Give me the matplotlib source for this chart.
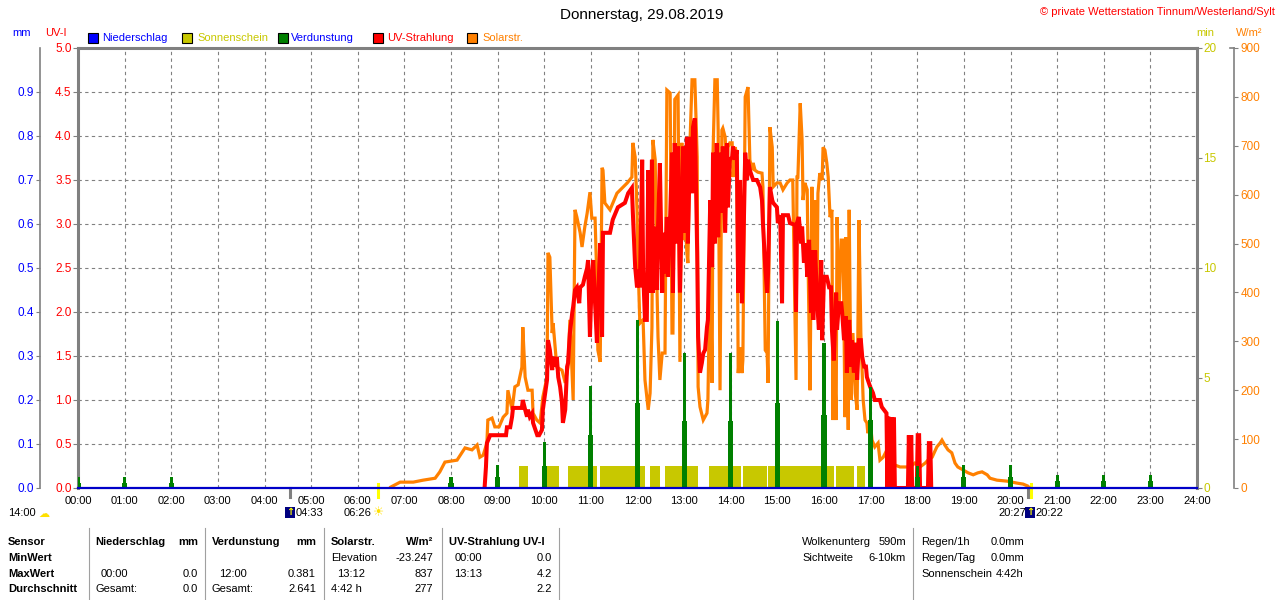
import matplotlib
matplotlib.use("Agg")
import matplotlib.pyplot as plt
from matplotlib.patches import Rectangle
from matplotlib.lines import Line2D

plt.rcParams['font.family'] = ['Liberation Sans', 'DejaVu Sans']
plt.rcParams['font.size'] = 8

# ---- data (time in hours) ----
solar_t = [6.71, 6.91, 7.19, 7.40, 7.66, 7.76, 7.87, 8.13, 8.30, 8.45, 8.56, 8.62, 8.69, 8.77, 8.79,
           8.88, 8.94, 9.03, 9.12, 9.20, 9.22, 9.31, 9.37, 9.44, 9.52, 9.54, 9.59, 9.65, 9.74, 9.76,
           9.84, 9.91, 9.97, 10.06, 10.08, 10.12, 10.17, 10.19, 10.27, 10.38, 10.45, 10.51, 10.55,
           10.62, 10.66, 10.70, 10.77, 10.81, 10.87, 10.92, 10.98, 11.02, 11.09, 11.13, 11.15, 11.20,
           11.24, 11.26, 11.30, 11.41, 11.56, 11.78, 11.88, 11.90, 11.95, 11.99, 12.01, 12.05, 12.12,
           12.16, 12.23, 12.27, 12.31, 12.33, 12.38, 12.42, 12.44, 12.48, 12.53, 12.59, 12.63, 12.70,
           12.74, 12.76, 12.80, 12.87, 12.91, 12.95, 12.98, 13.02, 13.06, 13.08, 13.13, 13.17, 13.23,
           13.28, 13.30, 13.34, 13.41, 13.49, 13.51, 13.56, 13.60, 13.62, 13.66, 13.71, 13.73, 13.77,
           13.81, 13.83, 13.88, 13.92, 13.94, 13.98, 14.03, 14.05, 14.09, 14.13, 14.16, 14.20, 14.24,
           14.26, 14.31, 14.37, 14.41, 14.46, 14.48, 14.52, 14.58, 14.67, 14.69, 14.74, 14.78, 14.80,
           14.84, 14.89, 14.91, 14.99, 15.06, 15.12, 15.21, 15.27, 15.33, 15.40, 15.42, 15.44, 15.49,
           15.53, 15.55, 15.59, 15.64, 15.66, 15.70, 15.74, 15.76, 15.81, 15.85, 15.87, 15.91, 15.96,
           15.98, 16.02, 16.06, 16.09, 16.13, 16.17, 16.19, 16.21, 16.26, 16.28, 16.32, 16.37, 16.41,
           16.45, 16.47, 16.52, 16.54, 16.58, 16.62, 16.67, 16.71, 16.75, 16.79, 16.84, 16.88, 16.92,
           16.94, 16.99, 17.03, 17.09, 17.16, 17.20, 17.27, 17.35, 17.42, 17.52, 17.63, 17.74, 17.85,
           17.95, 18.06, 18.17, 18.23, 18.32, 18.42, 18.49, 18.53, 18.59, 18.66, 18.74, 18.81, 18.87,
           18.98, 19.09, 19.20, 19.30, 19.39, 19.50, 19.56, 19.71, 19.93, 20.14, 20.27, 20.37, 20.41]
solar_v = [2, 12, 12, 16, 20, 33, 53, 57, 82, 78, 88, 63, 67, 92, 139,
           143, 125, 125, 145, 153, 200, 160, 207, 211, 247, 329, 227, 200, 200, 153,
           139, 133, 186, 227, 481, 472, 317, 337, 247, 241, 215, 247, 344,
           180, 569, 554, 522, 493, 534, 562, 605, 552, 552, 419, 282, 258,
           655, 650, 583, 569, 603, 624, 636, 706, 677, 569, 466, 337, 344,
           221, 160, 194, 329, 712, 671, 399, 309, 221, 276, 276, 814, 808,
           317, 317, 795, 804, 258, 706, 507, 548, 481, 460, 718, 835, 835,
           677, 207, 166, 139, 153, 180, 466, 215, 685, 835, 835, 732, 200,
           732, 736, 718, 624, 697, 706, 706, 636, 697, 685, 235, 288, 235,
           262, 800, 820, 671, 650, 665, 650, 646, 644, 616, 282, 276, 215,
           738, 697, 616, 624, 624, 610, 624, 630, 630, 221, 636, 636, 787,
           712, 589, 624, 610, 452, 200, 616, 452, 589, 370, 603, 644, 630,
           697, 691, 665, 636, 554, 569, 139, 317, 139, 554, 358, 507, 507,
           145, 513, 119, 569, 180, 317, 194, 160, 548, 317, 180, 139, 133,
           112, 139, 98, 84, 92, 57, 63, 78, 51, 47, 43, 43, 43,
           51, 43, 51, 57, 63, 84, 92, 98, 88, 78, 72, 51, 43,
           37, 31, 27, 31, 33, 27, 20, 16, 14, 10, 8, 4, 0]

uv_t = [8.72, 8.75, 8.77, 8.84, 9.18, 9.20, 9.27, 9.31, 9.33, 9.52, 9.54, 9.59, 9.63, 9.65, 9.69,
        9.74, 9.76, 9.85, 9.89, 9.95, 9.97, 10.02, 10.06, 10.08, 10.12, 10.17, 10.19, 10.23, 10.27,
        10.30, 10.34, 10.38, 10.40, 10.45, 10.49, 10.51, 10.55, 10.60, 10.62, 10.66, 10.70, 10.75,
        10.77, 10.83, 10.87, 10.92, 10.94, 10.98, 11.02, 11.05, 11.09, 11.13, 11.15, 11.20, 11.24,
        11.26, 11.41, 11.47, 11.58, 11.73, 11.80, 11.88, 11.90, 11.95, 11.99, 12.01, 12.05, 12.10,
        12.12, 12.16, 12.20, 12.23, 12.27, 12.31, 12.33, 12.38, 12.42, 12.44, 12.48, 12.53, 12.55,
        12.59, 12.63, 12.65, 12.70, 12.74, 12.76, 12.80, 12.85, 12.87, 12.91, 12.95, 12.98, 13.02,
        13.06, 13.08, 13.13, 13.17, 13.19, 13.23, 13.28, 13.30, 13.34, 13.38, 13.41, 13.45, 13.49,
        13.51, 13.56, 13.60, 13.62, 13.66, 13.70, 13.73, 13.77, 13.81, 13.83, 13.88, 13.92, 13.94,
        13.98, 14.03, 14.05, 14.09, 14.13, 14.16, 14.20, 14.24, 14.26, 14.31, 14.35, 14.37, 14.41,
        14.46, 14.48, 14.56, 14.63, 14.67, 14.69, 14.74, 14.78, 14.80, 14.84, 14.89, 14.91, 14.99,
        15.01, 15.06, 15.10, 15.12, 15.23, 15.27, 15.38, 15.40, 15.42, 15.46, 15.51, 15.53, 15.57,
        15.61, 15.64, 15.68, 15.72, 15.74, 15.77, 15.81, 15.85, 15.89, 15.94, 15.96, 16.00, 16.06,
        16.11, 16.15, 16.17, 16.21, 16.26, 16.28, 16.32, 16.37, 16.39, 16.43, 16.47, 16.49, 16.54,
        16.58, 16.60, 16.64, 16.69, 16.71, 16.75, 16.79, 16.82, 16.86, 16.90, 16.92, 16.99, 17.05,
        17.09, 17.20, 17.24, 17.34, 17.36, 17.38, 17.40, 17.42, 17.44, 17.46, 17.48, 17.50, 17.52,
        17.54, 17.80, 17.82, 17.85, 17.87, 17.89, 17.99, 18.01, 18.04, 18.06, 18.23, 18.25, 18.28,
        18.30]
uv_v = [0.0, 0.24, 0.51, 0.60, 0.60, 0.69, 0.69, 0.81, 0.91, 0.91, 1.00, 0.89, 0.81, 0.89, 0.81,
        0.85, 0.74, 0.60, 0.60, 0.66, 0.89, 1.08, 1.23, 1.68, 1.57, 1.34, 1.49, 1.38, 1.49,
        1.26, 1.15, 0.97, 0.74, 0.89, 1.38, 1.42, 1.76, 1.99, 2.06, 2.25, 2.28, 2.10,
        2.28, 2.31, 2.40, 2.50, 2.59, 1.72, 2.40, 2.59, 2.10, 1.65, 2.10, 2.78, 1.72,
        2.90, 2.90, 3.05, 3.19, 3.24, 3.35, 3.41, 3.13, 2.51, 2.28, 2.48, 2.28, 3.73,
        2.48, 1.91, 1.91, 3.61, 2.22, 3.73, 2.22, 2.97, 2.25, 2.95, 3.69, 2.22, 2.90,
        2.44, 3.08, 2.40, 3.08, 3.81, 2.22, 3.92, 2.78, 3.88, 2.22, 3.19, 3.88, 2.90,
        3.99, 2.78, 3.99, 3.35, 4.10, 4.20, 2.67, 1.72, 1.31, 1.42, 1.53, 1.57, 1.83,
        1.91, 3.27, 2.51, 3.81, 2.78, 3.92, 2.85, 3.81, 3.13, 3.88, 2.90, 3.92, 3.19,
        3.73, 3.76, 3.88, 3.73, 3.84, 2.22, 3.50, 2.10, 2.44, 3.81, 3.50, 3.73, 3.61,
        3.53, 3.50, 3.50, 3.42, 3.27, 3.01, 2.51, 2.22, 2.44, 3.42, 3.27, 3.24, 3.19,
        3.01, 3.10, 2.10, 3.10, 3.10, 3.01, 2.99, 2.00, 3.01, 3.08, 2.78, 2.97, 2.56,
        2.78, 2.40, 2.82, 1.99, 2.70, 1.91, 2.70, 2.14, 1.80, 2.59, 1.68, 2.40, 2.40,
        2.28, 2.28, 1.80, 1.45, 2.22, 1.80, 2.10, 2.10, 1.99, 1.68, 1.95, 1.31, 1.91,
        1.38, 1.68, 1.31, 1.65, 1.23, 1.68, 1.68, 1.49, 1.38, 1.38, 1.26, 1.15, 1.08,
        1.00, 1.00, 0.92, 0.85, 0.0, 0.81, 0.0, 0.80, 0.0, 0.80, 0.0, 0.80, 0.0,
        0.0, 0.0, 0.60, 0.0, 0.60, 0.0, 0.0, 0.60, 0.60, 0.0, 0.0, 0.51, 0.51,
        0.0]

sun_start = [9.46, 10.06, 10.51, 11.20, 12.27, 12.59, 13.53, 14.26, 14.80, 16.26, 16.71]
sun_end = [9.65, 10.32, 11.13, 12.16, 12.48, 13.30, 14.22, 14.78, 16.21, 16.64, 16.88]

verd_hours = [0, 1, 2, 8, 9, 10, 11, 12, 13, 14, 15, 16, 17, 18, 19, 20, 21, 22, 23]
verd_peak = [0.025, 0.025, 0.025, 0.025, 0.052, 0.105, 0.232, 0.381, 0.307, 0.307, 0.38, 0.33,
             0.23, 0.05, 0.052, 0.052, 0.03, 0.03, 0.03]
verd_base = [0.012, 0.012, 0.012, 0.012, 0.025, 0.05, 0.12, 0.193, 0.152, 0.152, 0.193, 0.166,
             0.155, 0.025, 0.025, 0.025, 0.015, 0.015, 0.015]

hour_labels = ["%02d:00" % h for h in range(25)]
legend_names = ["Niederschlag", "Sonnenschein", "Verdunstung", "UV-Strahlung", "Solarstr."]

C_BLUE = '#0000FF'
C_SUN = '#C8C800'
C_GREEN = '#008000'
C_RED = '#FF0000'
C_ORANGE = '#FF8000'
C_GREY = '#808080'

W, H = 1280, 600


def fx(px):
    return px / W


def fy(py):
    return 1 - py / H


fig = plt.figure(figsize=(12.8, 6), dpi=100, facecolor='white')
rect = [fx(78), fy(488), (1197 - 78) / W, 440 / H]
ax = fig.add_axes(rect)
ax_sol = ax.twinx()
ax_uv = ax.twinx()
ax_min = ax.twinx()
ax_mm = ax.twinx()

ax.set_xlim(0, 24)
ax.set_ylim(0, 5)
ax_uv.set_ylim(0, 5)
ax_sol.set_ylim(0, 900)
ax_min.set_ylim(0, 20)
ax_mm.set_ylim(0, 1.0)

# base axes: grid, UV ticks, frame
ax.set_xticks(range(25))
ax.set_xticklabels(hour_labels)
ax.tick_params(axis='x', length=0, pad=6, labelsize=8)
ax.set_yticks([i * 0.5 for i in range(11)])
ax.set_yticklabels(["%.1f" % (i * 0.5) for i in range(11)], color=C_RED)
ax.tick_params(axis='y', direction='out', length=3.6, color=C_GREY, pad=1, labelsize=8.5)
ax.grid(True, color=C_GREY, linestyle=(0, (3, 3)), linewidth=0.8)
ax.spines['bottom'].set_visible(False)
for s in ['left', 'top', 'right']:
    ax.spines[s].set_color(C_GREY)
    ax.spines[s].set_linewidth(2.2)

for a in (ax_sol, ax_uv, ax_min, ax_mm):
    for s in a.spines.values():
        s.set_visible(False)
ax_uv.set_yticks([])

# solar axis (right, outer)
sol_pos = (1234 - 78) / (1197 - 78)
ax_sol.spines['right'].set_visible(True)
ax_sol.spines['right'].set_position(('axes', sol_pos))
ax_sol.spines['right'].set_color(C_GREY)
ax_sol.spines['right'].set_linewidth(1.2)
ax_sol.set_yticks(range(0, 901, 100))
ax_sol.set_yticklabels([str(v) for v in range(0, 901, 100)], color=C_ORANGE)
ax_sol.tick_params(axis='y', length=3, color=C_GREY, pad=1.5, labelsize=8.5)
ax_sol.plot([sol_pos - 4 / 1119, sol_pos], [1, 1], transform=ax_sol.transAxes,
            color=C_GREY, lw=1.2, clip_on=False)

# sunshine minutes axis (right, on frame)
ax_min.set_yticks(range(0, 21, 5))
ax_min.set_yticklabels([str(v) for v in range(0, 21, 5)], color=C_SUN)
ax_min.tick_params(axis='y', length=3.6, color=C_GREY, pad=1, labelsize=8.5)

# mm axis (left, outer)
ax_mm.yaxis.set_label_position('left')
ax_mm.yaxis.tick_left()
ax_mm.spines['left'].set_visible(True)
ax_mm.spines['left'].set_position(('axes', (40 - 78) / (1197 - 78)))
ax_mm.spines['left'].set_color(C_GREY)
ax_mm.spines['left'].set_linewidth(1.2)
ax_mm.set_yticks([i / 10 for i in range(10)])
ax_mm.set_yticklabels(["%.1f" % (i / 10) for i in range(10)], color=C_BLUE)
ax_mm.tick_params(axis='y', length=3, color=C_GREY, pad=1.5, labelsize=8.5)

# series
ax_sol.plot(solar_t, solar_v, color=C_ORANGE, lw=2.3, solid_joinstyle='miter')
ax_uv.plot(uv_t, uv_v, color=C_RED, lw=2.9, solid_joinstyle='miter')
ax_min.bar(sun_start, 1.0, width=[e - s for s, e in zip(sun_start, sun_end)],
           align='edge', color=C_SUN, linewidth=0)
ax_mm.bar(verd_hours, verd_base, width=0.11, color=C_GREEN, linewidth=0)
ax_mm.bar(verd_hours, verd_peak, width=0.065, color=C_GREEN, linewidth=0)
ax_mm.plot([0, 24], [0, 0], color='#0000C8', lw=1.6, clip_on=False, zorder=5)

# sunrise / sunset marks below the axis
ax.plot([4.55, 4.55], [0, -0.1], color=C_GREY, lw=2.2, clip_on=False)
ax.plot([6.433, 6.433], [0.05, -0.1], color='#FFFF00', lw=2.2, clip_on=False)
ax.plot([20.367, 20.367], [0, -0.1], color=C_GREY, lw=2.2, clip_on=False)
ax.plot([20.45, 20.45], [0.05, -0.1], color='#FFFF00', lw=2.2, clip_on=False)

fig.text(fx(296), fy(513), "04:33", va='center', ha='left', fontsize=8)
fig.text(fx(371), fy(513), "06:26", va='center', ha='right', fontsize=8)
fig.text(fx(1026), fy(513), "20:27", va='center', ha='right', fontsize=8)
fig.text(fx(1035), fy(513), "20:22", va='center', ha='left', fontsize=8)
fig.text(fx(8), fy(513), "14:00", va='center', ha='left', fontsize=8)
fig.text(fx(379), fy(513), "\u2600", va='center', ha='center', fontsize=9,
         color='#FFE000', family='DejaVu Sans')
fig.text(fx(44), fy(514), "\u2601", va='center', ha='center', fontsize=8,
         color='#FFE000', family='DejaVu Sans')
for px in (290, 1030):
    fig.add_artist(Rectangle((fx(px - 5), fy(518)), 10 / W, 11 / H, transform=fig.transFigure,
                             facecolor='#000080', edgecolor='none'))
    fig.text(fx(px), fy(512), "\u2191", va='center', ha='center', fontsize=7,
             color='#FFFF00', family='DejaVu Sans', fontweight='bold')

# unit labels
fig.text(fx(22), fy(33), "mm", color=C_BLUE, ha='center', va='center', fontsize=8)
fig.text(fx(56), fy(33), "UV-I", color=C_RED, ha='center', va='center', fontsize=8)
fig.text(fx(1205), fy(33), "min", color=C_SUN, ha='center', va='center', fontsize=8)
fig.text(fx(1249), fy(33), "W/m\u00b2", color=C_ORANGE, ha='center', va='center', fontsize=8)

# legend
sq_x = [88, 182, 278, 373, 467]
txt_x = [102, 197, 291, 387, 482]
sq_col = [C_BLUE, C_SUN, C_GREEN, C_RED, C_ORANGE]
txt_col = [C_BLUE, C_SUN, C_BLUE, C_RED, C_ORANGE]
for name, sx, tx, sc, tc in zip(legend_names, sq_x, txt_x, sq_col, txt_col):
    fig.add_artist(Rectangle((fx(sx), fy(43)), 10 / W, 10 / H, transform=fig.transFigure,
                             facecolor=sc, edgecolor='black', linewidth=0.8))
    fig.text(fx(tx), fy(38), name, color=tc, va='center', ha='left', fontsize=8)

# title and copyright
fig.text(fx(642), fy(15), "Donnerstag, 29.08.2019", ha='center', va='center', fontsize=11)
fig.text(fx(1275), fy(12), "\u00a9 private Wetterstation Tinnum/Westerland/Sylt",
         ha='right', va='center', color=C_RED, fontsize=8)

# summary table
rows_y = [542, 558, 574, 589]
for sx in (89, 205, 324, 442, 559, 913):
    fig.add_artist(Line2D([fx(sx), fx(sx)], [fy(528), fy(600)], transform=fig.transFigure,
                          color='#A0A0A0', lw=0.8))

table = [
    (8, 0, "Sensor", 'left', True), (8, 1, "MinWert", 'left', True),
    (8, 2, "MaxWert", 'left', True), (8, 3, "Durchschnitt", 'left', True),
    (95, 0, "Niederschlag", 'left', True), (198, 0, "mm", 'right', True),
    (212, 0, "Verdunstung", 'left', True), (316, 0, "mm", 'right', True),
    (331, 0, "Solarstr.", 'left', True), (433, 0, "W/m\u00b2", 'right', True),
    (449, 0, "UV-Strahlung UV-I", 'left', True),
    (331, 1, "Elevation", 'left', False), (433, 1, "-23.247", 'right', False),
    (455, 1, "00:00", 'left', False), (552, 1, "0.0", 'right', False),
    (101, 2, "00:00", 'left', False), (198, 2, "0.0", 'right', False),
    (219, 2, "12:00", 'left', False), (316, 2, "0.381", 'right', False),
    (337, 2, "13:12", 'left', False), (433, 2, "837", 'right', False),
    (454, 2, "13:13", 'left', False), (552, 2, "4.2", 'right', False),
    (95, 3, "Gesamt:", 'left', False), (198, 3, "0.0", 'right', False),
    (212, 3, "Gesamt:", 'left', False), (316, 3, "2.641", 'right', False),
    (331, 3, "4:42 h", 'left', False), (433, 3, "277", 'right', False),
    (552, 3, "2.2", 'right', False),
    (802, 0, "Wolkenunterg", 'left', False), (906, 0, "590m", 'right', False),
    (802, 1, "Sichtweite", 'left', False), (906, 1, "6-10km", 'right', False),
    (921, 0, "Regen/1h", 'left', False), (991, 0, "0.0mm", 'left', False),
    (921, 1, "Regen/Tag", 'left', False), (991, 1, "0.0mm", 'left', False),
    (921, 2, "Sonnenschein", 'left', False), (996, 2, "4:42h", 'left', False),
]
for tx, r, s, ha, bold in table:
    fig.text(fx(tx), fy(rows_y[r]), s, ha=ha, va='center', fontsize=8,
             fontweight='bold' if bold else 'normal')

fig.savefig('out.png', dpi=100, facecolor='white')
